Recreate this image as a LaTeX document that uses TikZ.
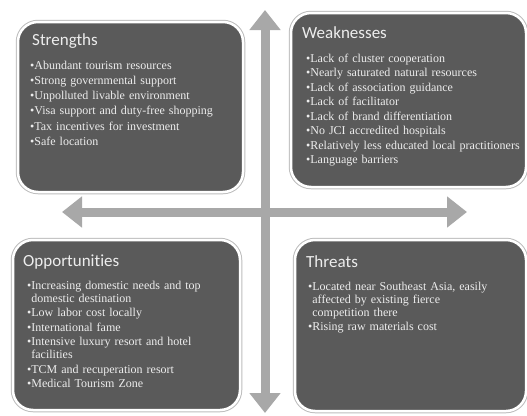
\documentclass[tikz,border=0pt]{standalone}
\usepackage{fontspec}
\usepackage{xcolor}
\usepackage{tikz}
\usetikzlibrary{arrows.meta}
\newfontfamily\titlefont[Ligatures=NoCommon]{Carlito}
\newfontfamily\bodyfont{Liberation Serif}
\definecolor{boxfill}{HTML}{5A5A5A}
\definecolor{boxedge}{HTML}{BDBDBD}
\definecolor{axisgray}{HTML}{A8A8A8}
\definecolor{textgray}{HTML}{EDEDED}
\tikzset{
	swotbox/.style={rounded corners=20pt, fill=boxfill, draw=white, line width=2.5pt,
		preaction={draw=boxedge, line width=4.5pt}},
	swottitle/.style={anchor=base west, inner sep=0pt, text=textgray,
		font=\titlefont\fontsize{17pt}{20pt}\selectfont},
	swotbody/.style={anchor=base west, inner sep=0pt, text=textgray, text width=225pt,
		align=left, font=\bodyfont\fontsize{12pt}{13pt}\selectfont},
	axis/.style={draw=axisgray, line width=9pt,
		arrows={Triangle[width=30pt,length=20pt]-Triangle[width=30pt,length=20pt]}}
}

\begin{document}
\begin{tikzpicture}[x=1pt, y=-1pt, line join=round]
	\useasboundingbox[fill=white] (0,0) rectangle (527,415);
	% cross of arrows
	\coordinate (up) at (265,10);
	\coordinate (down) at (265,413);
	\coordinate (left) at (62,212);
	\coordinate (right) at (467,212);
	\draw[axis] (down) -- (up);
	\draw[axis] (left) -- (right);
	% the four boxes
	\node[swotbox, minimum width=225pt, minimum height=170pt] (S) at (130.5,107) {};
	\node[swotbox, minimum width=235pt, minimum height=174pt] (W) at (408.5,100) {};
	\node[swotbox, minimum width=227pt, minimum height=170pt] (O) at (126.5,325) {};
	\node[swotbox, minimum width=231pt, minimum height=171pt] (T) at (410.5,325.5) {};
	% titles
	\node[swottitle] (Stitle) at (32,45) {Strengths};
	\node[swottitle] (Wtitle) at (302,38) {Weaknesses};
	\node[swottitle] (Otitle) at (23,266) {Opportunities};
	\node[swottitle] (Ttitle) at (306,267) {Threats};
	% lists
	\node[swotbody] (Slist) at (30,69) {•Abundant tourism resources\\[2.3pt]
		•Strong governmental support\\[2.3pt]
		•Unpolluted livable environment\\[2.3pt]
		•Visa support and duty-free shopping\\[2.3pt]
		•Tax incentives for investment\\[2.3pt]
		•Safe location};
	\node[swotbody] (Wlist) at (306,62) {•Lack of cluster cooperation\\[1.5pt]
		•Nearly saturated natural resources\\[1.5pt]
		•Lack of association guidance\\[1.5pt]
		•Lack of facilitator\\[1.5pt]
		•Lack of brand differentiation\\[1.5pt]
		•No JCI accredited hospitals\\[1.5pt]
		•Relatively less educated local practitioners\\[1.5pt]
		•Language barriers};
	\node[swotbody] (Olist) at (27,289) {•Increasing domestic needs and top\\
		\phantom{•}domestic destination\\[1.5pt]
		•Low labor cost locally\\[1.5pt]
		•International fame\\[1.5pt]
		•Intensive luxury resort and hotel\\
		\phantom{•}facilities\\[1.5pt]
		•TCM and recuperation resort\\[1.5pt]
		•Medical Tourism Zone};
	\node[swotbody] (Tlist) at (308,290) {•Located near Southeast Asia, easily\\
		\phantom{•}affected by existing fierce\\
		\phantom{•}competition there\\[1.5pt]
		•Rising raw materials cost};
\end{tikzpicture}
\end{document}
